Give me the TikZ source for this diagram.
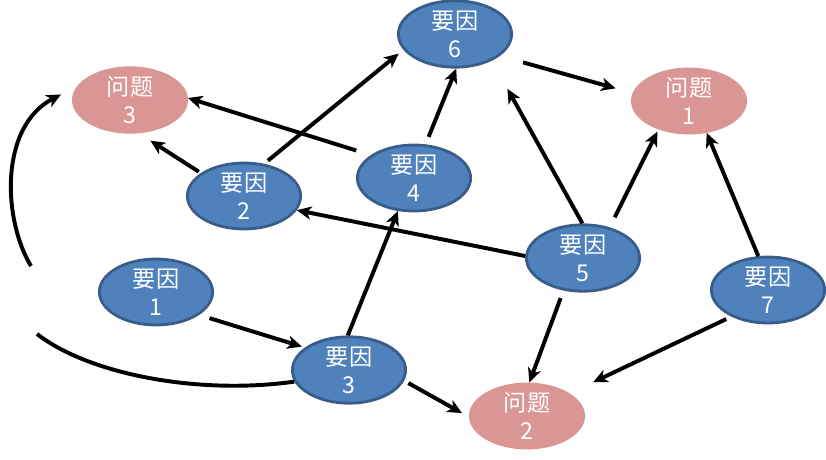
\documentclass[tikz,border=0pt]{standalone}
\usepackage{fontspec}
\newfontfamily\cjkfont{Noto Sans CJK SC}
\usepackage{tikz}
\usetikzlibrary{shapes.geometric,arrows.meta}
\definecolor{yinblue}{HTML}{4F81BD}
\definecolor{yinedge}{HTML}{385D8A}
\definecolor{wenpink}{HTML}{D99694}

\begin{document}
\begin{tikzpicture}[x=0.025cm,y=-0.025cm,line width=2.8pt,
  yin/.style={ellipse,draw=yinedge,line width=2pt,fill=yinblue,minimum width=2.83cm,minimum height=1.6cm,inner sep=0pt,text=white,align=center,font=\cjkfont\fontsize{16.5}{20}\selectfont},
  wen/.style={ellipse,fill=wenpink,outer sep=0pt,minimum width=2.9cm,minimum height=1.67cm,inner sep=0pt,text=white,align=center,font=\cjkfont\fontsize{16.5}{20}\selectfont},
  conn/.style={-{Stealth[length=0.36cm,width=0.33cm,inset=0.1cm]}}]
\useasboundingbox (0,0) rectangle (826,459);

\node[wen] (w3) at (130,100) {问题\\3};
\node[yin] (y6) at (455,34) {要因\\6};
\node[wen] (w1) at (689,101) {问题\\1};
\node[yin] (y2) at (244,196) {要因\\2};
\node[yin] (y4) at (414,178) {要因\\4};
\node[yin] (y1) at (156,292) {要因\\1};
\node[yin] (y5) at (583,258) {要因\\5};
\node[yin] (y7) at (768,290) {要因\\7};
\node[yin] (y3) at (349,370) {要因\\3};
\node[wen] (w2) at (527,416) {问题\\2};

\draw[conn,shorten <=0.6cm,shorten >=0.44cm] (y6.-26) -- (w1.172);
\draw[conn,shorten <=0.2cm] (y4.71) -- (y6.-88);
\draw[conn,shorten <=0.12cm,shorten >=0.15cm] (y2.58) -- (y6.197);
\draw[conn,shorten <=0.38cm] (y4.152) -- (w3.2);
\draw[conn,shorten <=0.06cm,shorten >=0.34cm] (y2.152) -- (w3.-75);
\draw[conn] (y5.178) -- (y2.-15);
\draw[conn,shorten >=0.8cm] (y5.91) -- (y6.-36);
\draw[conn,shorten <=0.28cm,shorten >=0.06cm] (y5.49) -- (w1.-137);
\draw[conn] (y7.106) -- (w1.-61);
\draw[conn,shorten <=0.2cm] (y5.-121) -- (w2.86);
\draw[conn,shorten <=0.14cm,shorten >=0.65cm] (y7.-144) -- (w2.28);
\draw[conn,shorten <=0.12cm,shorten >=0.2cm] (y3.-11) -- (w2.181);
\draw[conn,shorten <=0.27cm,shorten >=0.08cm] (y1.-28) -- (y3.153);
\draw[conn] (y3.92) -- (y4.-116);

\coordinate (gapA) at (37,334);
\coordinate (gapB) at (31,266);
\draw (y3.192) .. controls (200,395) and (90,375) .. (gapA);
\draw[conn,shorten >=0.46cm] (gapB) .. controls (3,220) and (-1,127) .. (w3.165);

\end{tikzpicture}
\end{document}
